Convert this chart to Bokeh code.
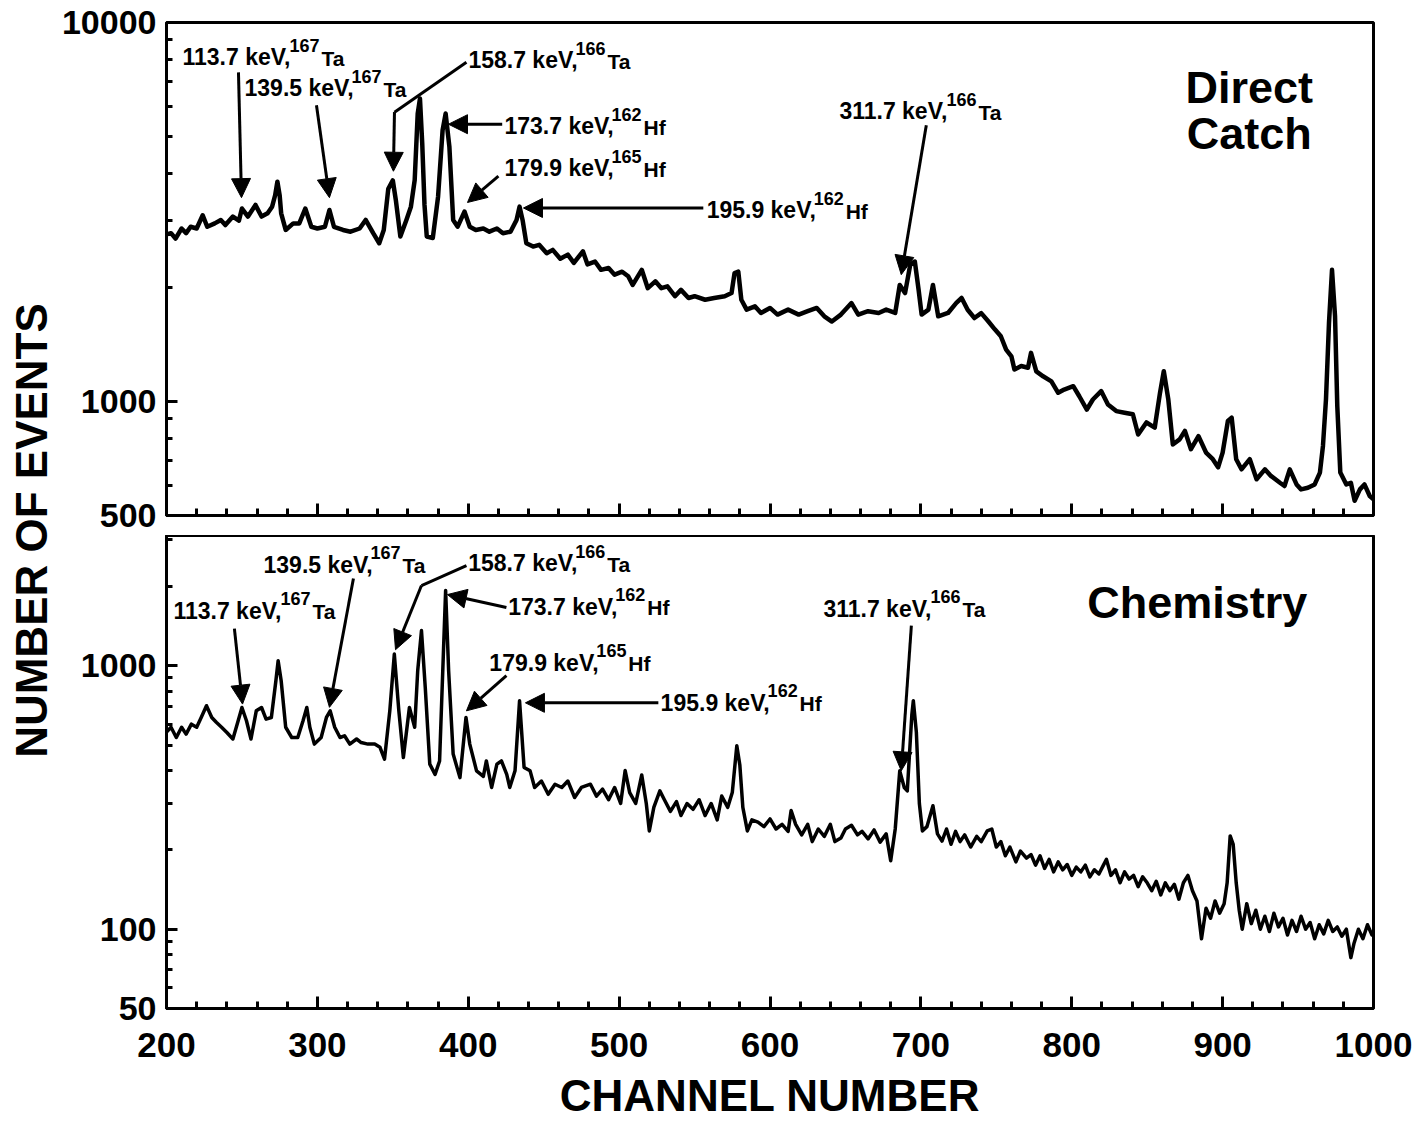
import math
from bokeh.plotting import figure
from bokeh.models import Range1d, FixedTicker, Label, Arrow, NormalHead, PrintfTickFormatter, LinearAxis
from bokeh.layouts import row, column
from bokeh.embed import file_html
from bokeh.resources import INLINE

FONT = "Liberation Sans"

# ---------------- data ----------------
top_channel = [200, 203, 206, 210, 213, 216, 220, 224, 227, 232, 236, 239, 244, 248, 250, 252, 254, 259, 263, 267,
               270, 272, 273.5, 275, 276, 279, 284, 288, 292, 296, 300, 305, 308, 311, 317, 322, 328, 332, 337, 341,
               344, 347, 350, 352, 355, 359, 362, 364.5, 366.5, 368, 369.5, 371, 372.5, 376.5, 380, 383, 385, 387.5,
               390, 393, 397.5, 401, 405, 410, 414, 419, 423, 428, 432, 434, 436, 438.5, 443, 447, 452, 456, 461,
               466, 470, 476, 479, 484, 488, 493, 497, 502, 506, 509, 515, 519, 524, 528, 532, 537, 541, 546, 550,
               557, 563, 570, 574.5, 576.5, 579, 581, 584.5, 590, 594, 600, 605, 612, 619, 625, 631, 636, 641, 647,
               654, 658.5, 665, 672, 677, 683, 686, 689.5, 693, 696, 698.5, 700.5, 705, 708, 711.5, 718, 723.5, 727,
               731, 735.5, 740, 744.5, 749, 753, 756.5, 760, 762, 766.5, 771, 773, 776.5, 781, 786.5, 791, 795, 801,
               805, 810, 814, 819.5, 824, 829.5, 835, 840.5, 844, 849.5, 855, 858.5, 861, 864, 867, 871.5, 875, 879,
               884, 889, 893.5, 897, 900, 903.5, 906, 909, 912.5, 918, 922.5, 928, 932, 938, 941, 944.5, 949, 952,
               956.5, 961, 964.5, 966.5, 968.5, 970.5, 972.5, 974.5, 976, 978, 982, 985, 987.5, 991, 994, 997.5, 1000]
top_counts = [2760, 2780, 2690, 2860, 2780, 2890, 2860, 3100, 2890, 2950, 3010, 2920, 3075, 3000, 3230, 3150, 3075,
              3300, 3075, 3137, 3266, 3500, 3800, 3500, 3137, 2835, 2950, 2950, 3230, 2890, 2860, 2890, 3200, 2890,
              2835, 2805, 2860, 3013, 2780, 2615, 2835, 3640, 3830, 3400, 2725, 3013, 3266, 3838, 5750, 6300, 4800,
              3300, 2725, 2700, 3470, 5200, 5750, 4700, 3013, 2892, 3170, 2892, 2835, 2860, 2805, 2860, 2780, 2805,
              3013, 3266, 3013, 2615, 2563, 2590, 2462, 2512, 2380, 2440, 2320, 2490, 2300, 2340, 2225, 2250, 2160,
              2200, 2140, 2030, 2225, 1990, 2075, 1990, 2012, 1895, 1970, 1875, 1895, 1855, 1875, 1895, 1932, 2182,
              2200, 1855, 1747, 1782, 1712, 1765, 1695, 1747, 1695, 1730, 1765, 1677, 1625, 1695, 1818, 1695, 1730,
              1712, 1747, 1712, 2030, 1932, 2300, 2340, 1970, 1695, 1747, 2030, 1677, 1712, 1820, 1875, 1745, 1660,
              1710, 1630, 1550, 1486, 1370, 1315, 1214, 1240, 1227, 1343, 1200, 1165, 1130, 1054, 1075, 1097, 1032,
              952, 1012, 1065, 982, 943, 934, 925, 818, 880, 853, 1054, 1202, 1012, 770, 794, 836, 748, 810, 733,
              704, 670, 733, 888, 906, 704, 662, 704, 623, 662, 636, 610, 598, 662, 604, 586, 592, 604, 649, 763,
              1012, 1611, 2225, 1680, 972, 649, 604, 610, 547, 586, 604, 563, 552]

bottom_channel = [200, 203, 206.5, 210, 213, 216.5, 220, 223, 226.5, 230, 233, 236.5, 240, 244, 247.5, 250, 253, 256,
                  259.5, 263, 266, 269.5, 272.5, 274, 276, 279, 283, 287, 290.5, 293, 295, 298, 302.5, 306, 308.5,
                  311.5, 315, 318, 321.5, 326, 329, 333.5, 338, 341.5, 344.5, 348, 351, 354, 357, 361, 364.5, 366.5,
                  369, 371.5, 374.5, 378, 381, 383.5, 385, 387, 390, 394.5, 398.5, 401, 405.5, 410, 412, 415.5, 419,
                  422, 425.5, 427.5, 431, 434, 437, 441, 444, 448.5, 453, 457.5, 462, 466, 470.5, 475, 481, 485, 489,
                  493, 497, 501, 504, 507, 511, 515, 518, 520, 523, 527, 530, 534, 538, 541, 545, 549, 553, 557, 561,
                  565, 568, 572, 575, 578, 580, 582, 585, 588, 592, 596, 600, 604, 608, 612, 614, 617, 621, 625, 628,
                  632, 636, 640, 643, 647, 650, 654, 658, 661, 665, 669, 673, 677, 680, 683, 686, 689, 691, 694, 695,
                  697, 699, 701, 704, 708, 711, 714, 717, 720, 723, 726, 729, 733, 737, 740, 744, 747, 750, 753, 756,
                  759, 763, 766, 770, 773, 776, 779, 782, 785, 788, 791, 794, 797, 800, 803, 806, 809, 812, 815, 818,
                  821, 823, 826, 829, 832, 835, 838, 841, 844, 847, 850, 853, 856, 859, 862, 865, 868, 871, 874, 877,
                  880, 883, 886, 889, 892, 895, 898, 901, 903, 905, 907, 909, 911, 913, 916, 919, 922, 925, 928, 931,
                  934, 937, 940, 943, 946, 949, 952, 955, 958, 961, 964, 967, 970, 973, 976, 979, 982, 985, 987, 990,
                  993, 996, 999, 1000]
bottom_counts = [560, 584, 534, 584, 550, 600, 584, 636, 705, 636, 610, 584, 558, 527, 618, 694, 618, 527, 674, 694,
                 627, 636, 877, 1045, 877, 584, 534, 534, 618, 694, 584, 504, 534, 636, 674, 584, 534, 542, 504, 527,
                 511, 504, 504, 490, 442, 674, 1107, 674, 448, 694, 584, 957, 1359, 827, 423, 387, 435, 1107, 1928,
                 957, 462, 376, 636, 504, 399, 380, 435, 345, 423, 435, 387, 345, 399, 736, 411, 399, 345, 365, 325,
                 355, 345, 365, 316, 345, 355, 320, 340, 310, 345, 300, 400, 330, 300, 385, 300, 236, 290, 335, 310,
                 280, 305, 270, 300, 285, 310, 270, 300, 260, 320, 290, 330, 497, 420, 290, 236, 260, 255, 245, 262,
                 240, 250, 235, 282, 250, 228, 250, 215, 240, 225, 250, 215, 222, 240, 248, 228, 235, 220, 238, 214,
                 230, 182, 240, 399, 345, 335, 650, 736, 560, 300, 236, 245, 294, 230, 216, 240, 210, 235, 215, 228,
                 205, 225, 215, 236, 240, 205, 215, 190, 205, 180, 198, 186, 192, 175, 190, 170, 184, 165, 180, 168,
                 176, 160, 172, 165, 175, 158, 168, 162, 175, 184, 160, 168, 150, 165, 155, 160, 145, 158, 150, 140,
                 152, 135, 150, 140, 148, 130, 150, 160, 140, 128, 92, 120, 110, 128, 115, 125, 150, 226, 210, 150,
                 118, 100, 125, 105, 118, 100, 112, 98, 115, 102, 110, 95, 108, 98, 112, 100, 106, 92, 104, 96, 108,
                 98, 102, 94, 100, 78, 88, 100, 92, 104, 95, 98]

x_ticks = [200, 300, 400, 500, 600, 700, 800, 900, 1000]
x_tick_labels = ["200", "300", "400", "500", "600", "700", "800", "900", "1000"]
top_y_ticks = [500, 1000, 10000]
top_y_tick_labels = ["500", "1000", "10000"]
bottom_y_ticks = [50, 100, 1000]
bottom_y_tick_labels = ["50", "100", "1000"]

peak_energy = ["113.7 keV,", "139.5 keV,", "158.7 keV,", "173.7 keV,", "179.9 keV,", "195.9 keV,", "311.7 keV,"]
peak_mass = ["167", "167", "166", "162", "165", "162", "166"]
peak_element = ["Ta", "Ta", "Ta", "Hf", "Hf", "Hf", "Ta"]

# ---------------- annotation placement (data coords) ----------------
# (label anchor), (arrow start), (arrow tip), optional leader-leg start
top_place = [
    ((210.6, 8090), (247.7, 7386), (249.7, 3450), None),
    ((251.7, 6700), (299.4, 6050), (308.0, 3450), None),
    ((400.1, 7943), (351.1, 5800), (350.4, 4050), (398.8, 7850)),
    ((424.0, 5324), (422.5, 5390), (386.9, 5390), None),
    ((424.0, 4130), (420.0, 3933), (399.5, 3350), None),
    ((558.0, 3200), (555.8, 3240), (436.6, 3240), None),
    ((646.0, 5830), (703.6, 5357), (687.0, 2160), None),
]
bottom_place = [
    ((204.6, 1619), (245.0, 1383), (250.4, 715), None),
    ((264.3, 2421), (323.9, 2143), (308.0, 695), None),
    ((400.0, 2443), (369.0, 2015), (351.8, 1150), (398.8, 2399)),
    ((426.5, 1676), (425.3, 1662), (386.2, 1862), None),
    ((414.0, 1026), (425.3, 916), (398.8, 674), None),
    ((527.5, 723), (526.0, 723), (437.9, 723), None),
    ((635.4, 1647), (693.7, 1419), (687.0, 399), None),
]

X_MINOR = [c for c in range(200, 1001, 20) if c % 100 != 0]


def style_common(p, yticks, ylabels, yminor):
    p.xgrid.visible = False
    p.ygrid.visible = False
    p.outline_line_color = "black"
    p.outline_line_width = 3
    p.background_fill_color = "white"
    p.border_fill_color = "white"
    p.yaxis.ticker = FixedTicker(ticks=yticks, minor_ticks=yminor)
    p.yaxis.formatter = PrintfTickFormatter(format="%d")
    p.yaxis.major_label_overrides = dict(zip(yticks, ylabels))
    ax = p.yaxis
    ax.axis_line_width = 3
    ax.axis_line_color = "black"
    ax.major_tick_out = 0
    ax.minor_tick_out = 0
    ax.major_tick_in = 11
    ax.minor_tick_in = 6
    ax.major_tick_line_width = 3
    ax.minor_tick_line_width = 3
    ax.major_label_text_font = FONT
    ax.major_label_text_font_style = "bold"
    ax.major_label_text_font_size = "34px"
    ax.major_label_text_color = "black"
    ax.major_label_standoff = 10


def annotate(p, places):
    for (anchor, start, tip, leg), energy, mass, elem in zip(places, peak_energy, peak_mass, peak_element):
        ax, ay = anchor
        p.add_layout(Label(x=ax, y=ay, text=energy, text_font=FONT, text_font_style="bold",
                           text_font_size="23px", text_baseline="middle", text_color="black"))
        p.add_layout(Label(x=ax, y=ay, x_offset=107, y_offset=12, text=mass, text_font=FONT,
                           text_font_style="bold", text_font_size="18px", text_baseline="middle",
                           text_color="black"))
        p.add_layout(Label(x=ax, y=ay, x_offset=139, y_offset=-1, text=elem, text_font=FONT,
                           text_font_style="bold", text_font_size="21px", text_baseline="middle",
                           text_color="black"))
        if leg is not None:
            p.add_layout(Arrow(x_start=leg[0], y_start=leg[1], x_end=start[0], y_end=start[1], end=None,
                               line_width=3, line_color="black"))
        p.add_layout(Arrow(x_start=start[0], y_start=start[1], x_end=tip[0], y_end=tip[1],
                           end=NormalHead(size=19, fill_color="black", line_color="black", line_width=1),
                           line_width=3, line_color="black"))


def big_label(p, x, y, text):
    p.add_layout(Label(x=x, y=y, text=text, text_font=FONT, text_font_style="bold", text_color="black",
                       text_font_size="45px", text_align="center", text_baseline="middle"))


# ---------------- top panel ----------------
top = figure(x_range=Range1d(200, 1000), y_range=Range1d(500, 10000), y_axis_type="log",
             x_axis_location=None,
             frame_width=1207, frame_height=493, min_border_left=107, min_border_right=45,
             min_border_top=22, min_border_bottom=20, output_backend="svg", toolbar_location=None)
top.line(top_channel, top_counts, line_color="black", line_width=4.5, line_join="round")
style_common(top, top_y_ticks, top_y_tick_labels,
             [600, 700, 800, 900, 2000, 3000, 4000, 5000, 6000, 7000, 8000, 9000])
# bottom edge of the top panel: tick marks only (short ones and long ones), no labels
short_ticks = LinearAxis(ticker=FixedTicker(ticks=[], minor_ticks=X_MINOR), axis_line_width=3,
                         minor_tick_in=7, minor_tick_out=0, minor_tick_line_width=3, major_label_standoff=0)
long_ticks = LinearAxis(ticker=FixedTicker(ticks=[], minor_ticks=x_ticks), axis_line_color=None,
                        minor_tick_in=12, minor_tick_out=0, minor_tick_line_width=3, major_label_standoff=0)
top.add_layout(short_ticks, "below")
top.add_layout(long_ticks, "below")
annotate(top, top_place)
big_label(top, 917.7, 6745, "Direct")
big_label(top, 917.7, 5105, "Catch")

# ---------------- bottom panel ----------------
bot = figure(x_range=Range1d(200, 1000), y_range=Range1d(50, 3120), y_axis_type="log",
             frame_width=1207, frame_height=473, min_border_left=107, min_border_right=45,
             min_border_top=0, min_border_bottom=114, output_backend="svg", toolbar_location=None)
bot.line(bottom_channel, bottom_counts, line_color="black", line_width=3.5, line_join="round")
style_common(bot, bottom_y_ticks, bottom_y_tick_labels,
             [60, 70, 80, 90, 200, 300, 400, 500, 600, 700, 800, 900, 2000, 3000])
xa = bot.xaxis
xa.ticker = FixedTicker(ticks=x_ticks, minor_ticks=X_MINOR)
xa.major_label_overrides = dict(zip(x_ticks, x_tick_labels))
xa.axis_line_width = 3
xa.major_tick_out = 0
xa.minor_tick_out = 0
xa.major_tick_in = 12
xa.minor_tick_in = 7
xa.major_tick_line_width = 3
xa.minor_tick_line_width = 3
xa.major_label_text_font = FONT
xa.major_label_text_font_style = "bold"
xa.major_label_text_font_size = "35px"
xa.major_label_text_color = "black"
xa.major_label_standoff = 24
xa.axis_label = "CHANNEL NUMBER"
xa.axis_label_text_font = FONT
xa.axis_label_text_font_style = "bold"
xa.axis_label_text_font_size = "44px"
xa.axis_label_text_color = "black"
xa.axis_label_standoff = 11
annotate(bot, bottom_place)
big_label(bot, 883.2, 1736, "Chemistry")

# ---------------- shared y label ----------------
lab = figure(width=58, height=1122, x_range=Range1d(0, 58), y_range=Range1d(0, 1122),
             x_axis_location=None, y_axis_location=None, min_border=0, output_backend="svg",
             toolbar_location=None, outline_line_color=None)
lab.grid.visible = False
lab.add_layout(Label(x=31, y=592, text="NUMBER OF EVENTS", angle=math.pi / 2, text_align="center",
                     text_baseline="middle", text_font=FONT, text_font_style="bold", text_font_size="44px",
                     text_color="black"))

layout = row(lab, column(top, bot))
open("out.html", "w").write(file_html(layout, INLINE))
